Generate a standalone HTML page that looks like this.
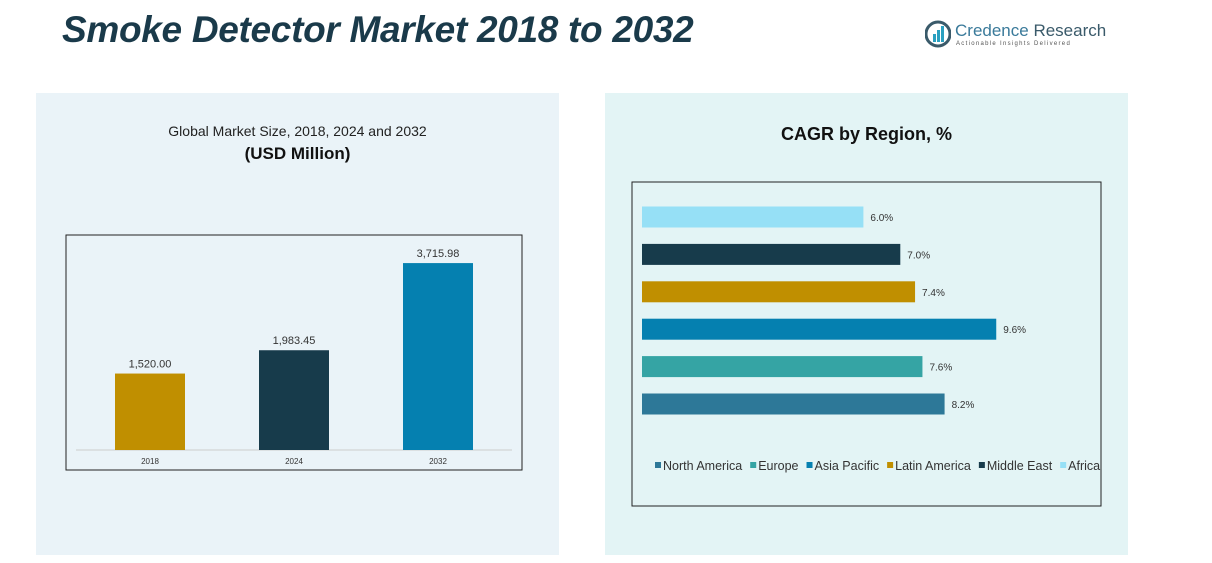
<!DOCTYPE html>
<html><head><meta charset="utf-8"><style>
body{margin:0;width:1212px;height:563px;background:#fff;font-family:"Liberation Sans",sans-serif;position:relative;overflow:hidden}
.abs{position:absolute}
</style></head><body>
<div class="abs" style="left:62px;top:9px;font-size:37px;font-weight:bold;font-style:italic;color:#1a3a4a;letter-spacing:-0.3px">Smoke Detector Market 2018 to 2032</div>
<div class="abs" style="left:925px;top:20px;width:180px;height:30px">
<svg width="26" height="28" style="position:absolute;left:0;top:0"><circle cx="13" cy="14" r="12" fill="none" stroke="#3a5a6a" stroke-width="3"/><rect x="8" y="14" width="3" height="8" fill="#2aa0c0"/><rect x="12" y="10" width="3" height="12" fill="#2aa0c0"/><rect x="16" y="6" width="3" height="16" fill="#2aa0c0"/></svg>
<div class="abs" style="left:30px;top:1px;font-size:17px;color:#3a7a9a;white-space:nowrap">Credence <span style="color:#3a5a6a">Research</span></div>
<div class="abs" style="left:31px;top:21px;font-size:6px;letter-spacing:1.3px;color:#555;white-space:nowrap">Actionable Insights Delivered</div>
</div>
<div class="abs" style="left:36px;top:93px;width:523px;height:462px;background:#eaf3f8"></div>
<div class="abs" style="left:605px;top:93px;width:523px;height:462px;background:#e3f4f5"></div>
<div class="abs" style="left:36px;top:123px;width:523px;text-align:center;font-size:14px;color:#222">Global Market Size, 2018, 2024 and 2032</div>
<div class="abs" style="left:36px;top:144px;width:523px;text-align:center;font-size:17px;font-weight:bold;color:#111">(USD Million)</div>
<div class="abs" style="left:605px;top:124px;width:523px;text-align:center;font-size:18px;font-weight:bold;color:#111">CAGR by Region, %</div>
<svg class="abs" style="left:0;top:0" width="1212" height="563" id="svg"></svg>
<script>
const years=["2018","2024","2032"];
const sizes=[1520.00,1983.45,3715.98];
const sizeLabels=["1,520.00","1,983.45","3,715.98"];
const sizeColors=["#c08f00","#173b4b","#0580b0"];
const regions=["Africa","Middle East","Latin America","Asia Pacific","Europe","North America"];
const cagr=[6.0,7.0,7.4,9.6,7.6,8.2];
const cagrLabels=["6.0%","7.0%","7.4%","9.6%","7.6%","8.2%"];
const regColors=["#96e0f6","#173b4b","#c08f00","#0580b0","#35a4a4","#2d7898"];
const legendOrder=["North America","Europe","Asia Pacific","Latin America","Middle East","Africa"];
const legendColors=["#2d7898","#35a4a4","#0580b0","#c08f00","#173b4b","#96e0f6"];
const svg=document.getElementById('svg');
const NS="http://www.w3.org/2000/svg";
function mk(t,a,txt){const e=document.createElementNS(NS,t);for(const k in a)e.setAttribute(k,a[k]);if(txt!==undefined)e.textContent=txt;svg.appendChild(e);return e;}
let f=mk('rect',{x:66,y:235,width:456,height:235,fill:'none',stroke:'#222','stroke-width':1});


const base=450,yS=v=>base-v*0.0503;
const xC=i=>150+i*144;
let ax=mk('line',{x1:76,x2:512,y1:base,y2:base,stroke:'#ccc'});


sizes.forEach((v,i)=>{
 let r=mk('rect',{x:xC(i)-35,y:yS(v),width:70,height:base-yS(v),fill:sizeColors[i]});
 
 
 let t=mk('text',{x:xC(i),y:yS(v)-6,'text-anchor':'middle','font-size':11,fill:'#333'},sizeLabels[i]);
 
 
 let l=mk('text',{x:xC(i),y:464,'text-anchor':'middle','font-size':8,fill:'#333'},years[i]);
 
 
});
f=mk('rect',{x:632,y:182,width:469,height:324,fill:'none',stroke:'#222','stroke-width':1});


const x0=642,xs=v=>x0+v*36.9;
const yc=i=>217+i*37.4;
cagr.forEach((v,i)=>{
 let r=mk('rect',{x:x0,y:yc(i)-10.5,width:xs(v)-x0,height:21,fill:regColors[i]});
 
 
 let t=mk('text',{x:xs(v)+7,y:yc(i)+4,'font-size':10,fill:'#333'},cagrLabels[i]);
 
 
});
let lx=655;
legendOrder.forEach((n,i)=>{
 let r=mk('rect',{x:lx,y:462,width:6,height:6,fill:legendColors[i]});
 
 
 let t=mk('text',{x:lx+8,y:470,'font-size':12.5,fill:'#333'},n);
 
 
 lx+=10+t.getComputedTextLength()+6;
});
</script>
</body></html>
